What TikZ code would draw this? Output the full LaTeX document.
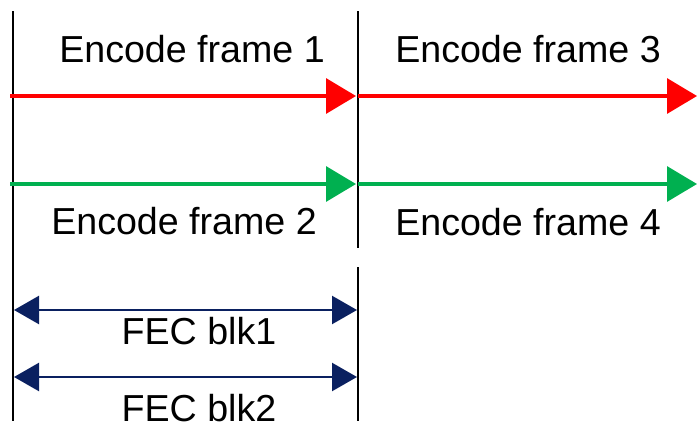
\documentclass[tikz,border=0pt]{standalone}
\usepackage{fontspec}
\setmainfont{Liberation Sans}
\usepackage{tikz}
\usetikzlibrary{arrows.meta}

\definecolor{framered}{HTML}{FF0000}
\definecolor{framegreen}{HTML}{00B050}
\definecolor{blknavy}{HTML}{0A2060}

\tikzset{
  lbl/.style={inner sep=0pt, font=\fontsize{18.8}{22}\selectfont},
  frame arrow/.style={line width=1.6pt, -{Triangle[length=15pt, width=17.5pt]}},
  blk arrow/.style={draw=blknavy, line width=1.2pt, {Triangle[length=12.5pt, width=14pt]}-{Triangle[length=12.5pt, width=14pt]}, blknavy},
  bound/.style={line width=1.1pt}
}

\begin{document}
\begin{tikzpicture}[x=0.5pt, y=-0.5pt]
            \useasboundingbox (0,0) rectangle (697,429);

            % Grenzen:
            \coordinate (lefttop) at (13,11);
            \coordinate (leftbot) at (13,421);
            \coordinate (midtop) at (358,11);
            \coordinate (midmid) at (358,248);
            \coordinate (midlow) at (358,267);
            \coordinate (midbot) at (358,421);
            \draw[bound] (lefttop) -- (leftbot);
            \draw[bound] (midtop) -- (midmid);
            \draw[bound] (midlow) -- (midbot);

            % Frames:
            \coordinate (r0) at (10,96);
            \coordinate (r1) at (356,96);
            \coordinate (r2) at (358,96);
            \coordinate (r3) at (697,96);
            \coordinate (g0) at (10,184);
            \coordinate (g1) at (356,184);
            \coordinate (g2) at (358,184);
            \coordinate (g3) at (697,184);
            \draw[frame arrow, framered] (r0) -- (r1);
            \draw[frame arrow, framered] (r2) -- (r3);
            \draw[frame arrow, framegreen] (g0) -- (g1);
            \draw[frame arrow, framegreen] (g2) -- (g3);

            \node[lbl] (enc1) at (192,49) {Encode frame 1};
            \node[lbl] (enc2) at (184,221) {Encode frame 2};
            \node[lbl] (enc3) at (528,49) {Encode frame 3};
            \node[lbl] (enc4) at (528,222) {Encode frame 4};

            % FEC Bloecke:
            \coordinate (b1l) at (14,310);
            \coordinate (b1r) at (357,310);
            \coordinate (b2l) at (14,377);
            \coordinate (b2r) at (357,377);
            \draw[blk arrow] (b1l) -- (b1r);
            \draw[blk arrow] (b2l) -- (b2r);

            \node[lbl] (blk1) at (199,331) {FEC blk1};
            \node[lbl] (blk2) at (199,408) {FEC blk2};

      \end{tikzpicture}
\end{document}
